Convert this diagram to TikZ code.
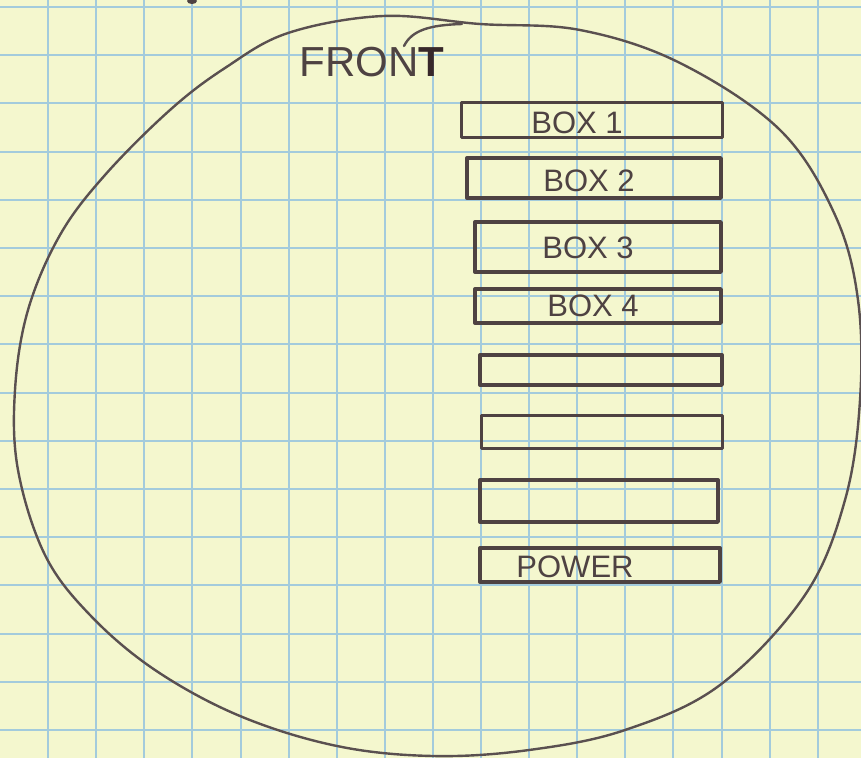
\documentclass[tikz,border=0pt]{standalone}
\usepackage{fontspec}
\setmainfont{Liberation Sans}
\definecolor{paper}{RGB}{244,247,206}
\definecolor{gridc}{RGB}{163,203,220}
\definecolor{penc}{RGB}{78,66,66}
\definecolor{outc}{RGB}{90,80,80}
\definecolor{inkdark}{RGB}{55,40,42}
\begin{document}
\begin{tikzpicture}[x=1pt,y=-1pt,
  pen/.style={draw=penc, line width=3.4pt, line join=round},
  outline/.style={draw=outc, line width=2.4pt, line cap=round, line join=round},
  boxnode/.style={pen, rectangle, inner sep=0pt, anchor=center},
  lbl/.style={text=penc, font=\fontsize{31}{31}\selectfont, inner sep=0pt, anchor=center},
  gridline/.style={draw=gridc, line width=2pt}
]
\fill[paper] (0,0) rectangle (861,758);
\useasboundingbox (0,0) rectangle (861,758);
% grid paper
\foreach \i in {1,...,17} \draw[gridline] ({48.1*\i},0) -- ({48.1*\i},758);
\foreach \j in {0,...,15} \draw[gridline] (0,{7+48.2*\j}) -- (861,{7+48.2*\j});
% outline
\draw[outline] plot[smooth cycle, tension=0.6] coordinates {
  (288,33) (383,16) (480,24) (580,30) (680,63) (780,130) (835,215)
  (858,300) (860,400) (845,500) (805,595) (720,685) (625,730) (529,750)
  (433,756) (337,746) (240,716) (155,670) (90,615) (45,555) (18,470)
  (15,390) (28,310) (60,235) (105,175) (170,110) (225,68)};
\draw[outline] (404,46) .. controls (412,30) and (430,25) .. (462,24);
% speck at top edge
\fill[penc] (192,1) ellipse (5pt and 3pt);
% title
\node[lbl, font=\fontsize{42}{42}\selectfont] (front) at (372,62) {FRON\textcolor{inkdark}{\textbf{T}}};
% boxes
\node[boxnode, minimum width=261pt, minimum height=35pt] (box1) at (592,120) {};
\node[boxnode, minimum width=254pt, minimum height=40pt] (box2) at (594,178) {};
\node[boxnode, minimum width=246pt, minimum height=50pt] (box3) at (598,247) {};
\node[boxnode, minimum width=246pt, minimum height=34pt] (box4) at (598,306) {};
\node[boxnode, minimum width=242pt, minimum height=30pt] (box5) at (601,370) {};
\node[boxnode, minimum width=241pt, minimum height=33pt] (box6) at (602,432) {};
\node[boxnode, minimum width=238pt, minimum height=42pt] (box7) at (599,501) {};
\node[boxnode, minimum width=240pt, minimum height=34pt] (box8) at (600,565) {};
% labels
\node[lbl] (t1) at (577,123) {BOX 1};
\node[lbl] (t2) at (589,181) {BOX 2};
\node[lbl] (t3) at (588,248) {BOX 3};
\node[lbl] (t4) at (593,306) {BOX 4};
\node[lbl] (t8) at (575,567) {POWER};
\end{tikzpicture}
\end{document}
